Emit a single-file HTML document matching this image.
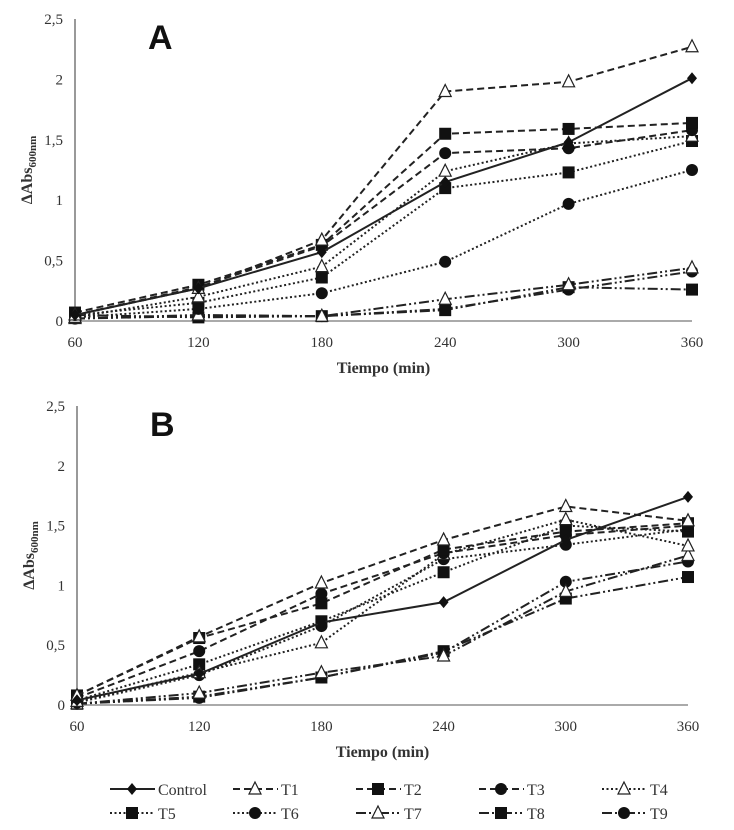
<!DOCTYPE html>
<html><head><meta charset="utf-8"><style>
body{margin:0;background:#fff}
svg{display:block;font-family:"Liberation Serif",serif}
</style></head><body>
<svg id="chart" width="734" height="830" viewBox="0 0 734 830" xmlns="http://www.w3.org/2000/svg"></svg>
<script>
const times=[60,120,180,240,300,360];
const yTicks=[0,0.5,1,1.5,2,2.5];
const yTickLabels=["0","0,5","1","1,5","2","2,5"];
const seriesNames=["Control","T1","T2","T3","T4","T5","T6","T7","T8","T9"];
const aControl=[0.05,0.27,0.57,1.15,1.48,2.01];
const aT1=[0.05,0.27,0.67,1.9,1.98,2.27];
const aT2=[0.07,0.3,0.63,1.55,1.59,1.64];
const aT3=[0.05,0.28,0.62,1.39,1.43,1.58];
const aT4=[0.03,0.2,0.45,1.24,1.47,1.53];
const aT5=[0.05,0.15,0.36,1.1,1.23,1.49];
const aT6=[0.03,0.1,0.23,0.49,0.97,1.25];
const aT7=[0.02,0.05,0.04,0.18,0.3,0.44];
const aT8=[0.05,0.03,0.04,0.09,0.28,0.26];
const aT9=[0.02,0.04,0.04,0.1,0.26,0.41];
const bControl=[0.04,0.26,0.69,0.86,1.38,1.74];
const bT1=[0.08,0.57,1.02,1.38,1.66,1.54];
const bT2=[0.08,0.56,0.85,1.3,1.45,1.52];
const bT3=[0.06,0.45,0.93,1.27,1.42,1.5];
const bT4=[0.03,0.27,0.52,1.26,1.55,1.33];
const bT5=[0.04,0.34,0.7,1.11,1.5,1.45];
const bT6=[0.02,0.25,0.66,1.22,1.34,1.47];
const bT7=[0.01,0.1,0.27,0.41,0.95,1.25];
const bT8=[0.01,0.07,0.23,0.45,0.89,1.07];
const bT9=[0.01,0.06,0.23,0.44,1.03,1.2];
const panelA=[aControl,aT1,aT2,aT3,aT4,aT5,aT6,aT7,aT8,aT9];
const panelB=[bControl,bT1,bT2,bT3,bT4,bT5,bT6,bT7,bT8,bT9];

const NS="http://www.w3.org/2000/svg";
const svg=document.getElementById('chart');
const dashes=["","7,4","7,4","7,4","2,2.5","2,2.5","2,2.5","10,3,2,3,2,3","10,3,2,3,2,3","10,3,2,3,2,3"];
const markers=["diamond","tri","sq","circ","tri","sq","circ","tri","sq","circ"];
function el(tag,attrs,parent){const e=document.createElementNS(NS,tag);for(const k in attrs)e.setAttribute(k,attrs[k]);(parent||svg).appendChild(e);return e;}
function marker(kind,x,y,g){
  let m;
  if(kind==="diamond") m=el('polygon',{points:`${x},${y-6} ${x+5},${y} ${x},${y+6} ${x-5},${y}`,fill:'#111'},g);
  else if(kind==="tri") m=el('polygon',{points:`${x},${y-7} ${x+6},${y+5} ${x-6},${y+5}`,fill:'#fff',stroke:'#222','stroke-width':1.2},g);
  else if(kind==="sq") m=el('rect',{x:x-6,y:y-6,width:12,height:12,fill:'#111'},g);
  else m=el('circle',{cx:x,cy:y,r:6,fill:'#111'},g);
  return m;
}
function panel(cfg){
  const {x0,x1,y0,y25,data,letter,id}=cfg;
  const xs=t=>x0+(t-60)/300*(x1-x0);
  const ys=v=>y0-v/2.5*(y0-y25);
  const g=el('g',{});
  
  
  const ya=el('line',{x1:x0,y1:y25,x2:x0,y2:y0,stroke:'#333','stroke-width':1},g);
  
  const xa=el('line',{x1:x0,y1:y0,x2:x1,y2:y0,stroke:'#777','stroke-width':1.2},g);
  
  yTicks.forEach((v,i)=>{const t=el('text',{x:x0-12,y:ys(v)+5,'text-anchor':'end','font-size':15,fill:'#333'},g);t.textContent=yTickLabels[i];
    });
  times.forEach(tm=>{const t=el('text',{x:xs(tm),y:y0+26,'text-anchor':'middle','font-size':15,fill:'#333'},g);t.textContent=tm;
    });
  const xt=el('text',{x:(x0+x1)/2,y:y0+52,'text-anchor':'middle','font-size':16,'font-weight':'bold',fill:'#333'},g);xt.textContent='Tiempo (min)';
  
  const yt=el('text',{transform:`translate(${x0-43},${ys(1.25)}) rotate(-90)`,'text-anchor':'middle','font-size':16,'font-weight':'bold',fill:'#333'},g);
  yt.innerHTML='ΔAbs<tspan font-size="11" dy="4">600nm</tspan>';
  
  const lt=el('text',{x:x0+73,y:y25+30,'font-size':34,'font-weight':'bold','font-family':'Liberation Sans, sans-serif',fill:'#111'},g);lt.textContent=letter;
  
  for(let s=data.length-1;s>=0;s--){
    const pts=data[s].map((v,i)=>xs(times[i])+','+ys(v)).join(' ');
    const pl=el('polyline',{points:pts,fill:'none',stroke:'#222','stroke-width':2,'stroke-dasharray':dashes[s]},g);
    
    
    data[s].forEach((v,i)=>{const m=marker(markers[s],xs(times[i]),ys(v),g);
      
      });
  }
}
panel({x0:75,x1:692,y0:321,y25:19,data:panelA,letter:'A',id:'panel-a'});
panel({x0:77,x1:688,y0:705,y25:406,data:panelB,letter:'B',id:'panel-b'});
// legend
const lg=el('g',{});


seriesNames.forEach((n,i)=>{
  const col=i%5,row=Math.floor(i/5);
  const lx=110+col*123,ly=789+row*24;
  const ent=el('g',{},lg);
  
  
  el('line',{x1:lx,y1:ly,x2:lx+45,y2:ly,stroke:'#222','stroke-width':2,'stroke-dasharray':dashes[i]},ent);
  marker(markers[i],lx+22,ly,ent);
  const t=el('text',{x:lx+48,y:ly+6,'font-size':16,fill:'#333'},ent);t.textContent=n;
});
</script>
</body></html>
